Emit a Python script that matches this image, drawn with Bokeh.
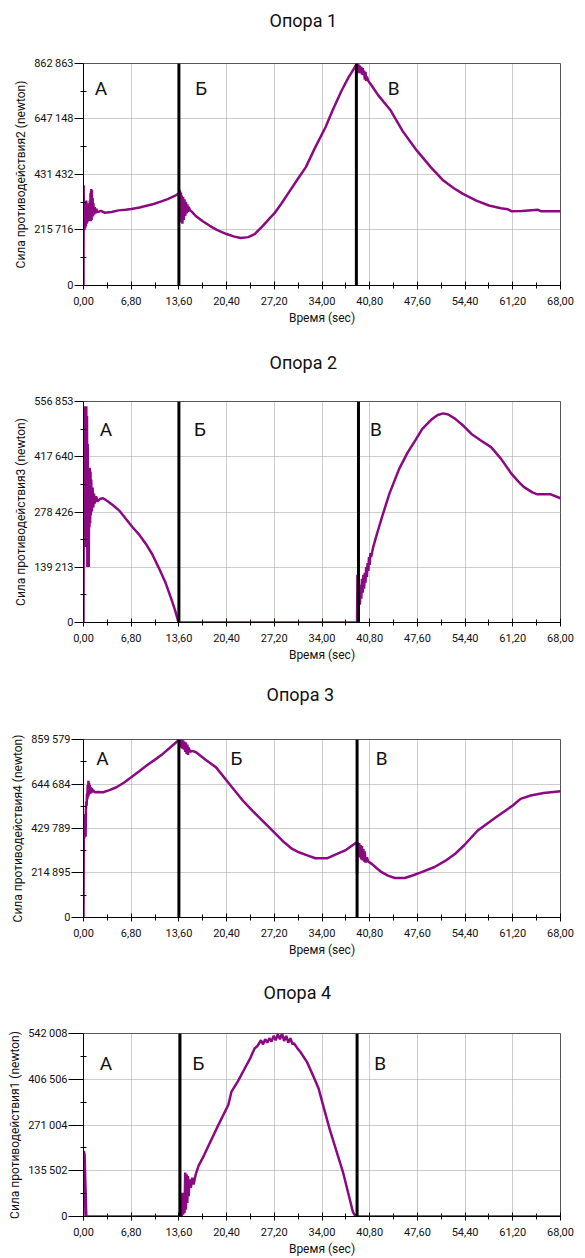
from bokeh.plotting import figure
from bokeh.layouts import column
from bokeh.models import FixedTicker, CustomJSTickFormatter, Label, Span, Title
from bokeh.embed import file_html
from bokeh.resources import INLINE

FONT = "Roboto"
PURPLE = "#8B0A82"

# ---------------- shared axis data ----------------
x_ticks = [0.0, 6.8, 13.6, 20.4, 27.2, 34.0, 40.8, 47.6, 54.4, 61.2, 68.0]
x_tick_labels = ["0,00", "6,80", "13,60", "20,40", "27,20", "34,00",
                 "40,80", "47,60", "54,40", "61,20", "68,00"]
x_minor = [3.4, 10.2, 17.0, 23.8, 30.6, 37.4, 44.2, 51.0, 57.8, 64.6]
x_title = "Время (sec)"
phase_letters = ["А", "Б", "В"]

# ---------------- Опора 1 ----------------
title1 = "Опора 1"
ylabel1 = "Сила противодействия2 (newton)"
y_ticks1 = [0, 215716, 431432, 647148, 862863]
y_labels1 = ["0", "215\u2009716", "431\u2009432", "647\u2009148", "862\u2009863"]
bounds1 = [13.6, 38.9]
t1 = [0.0, 0.02, 0.06, 0.1, 0.15, 0.2, 0.25, 0.3, 0.35, 0.4, 0.45, 0.5, 0.55, 0.6,
      0.65, 0.7, 0.75, 0.8, 0.85, 0.9, 0.95, 1.0, 1.05, 1.1, 1.15, 1.2, 1.25, 1.3,
      1.35, 1.4, 1.5, 1.6, 1.7, 1.8, 2.0, 2.5, 3.0, 4.0, 5.0, 6.0, 6.8, 8.0, 9.0,
      10.0, 11.0, 12.0, 13.0, 13.6, 13.65, 13.7, 13.75, 13.8, 13.85, 13.9, 13.95,
      14.0, 14.1, 14.2, 14.3, 14.4, 14.5, 14.6, 14.7, 14.8, 14.9, 15.0, 15.2, 15.5,
      16.0, 17.0, 18.0, 19.0, 20.4, 21.5, 22.4, 23.5, 24.4, 25.5, 26.5, 27.2, 28.2,
      29.3, 30.5, 31.7, 33.0, 34.5, 35.5, 36.8, 37.8, 38.6, 38.9, 39.0, 39.1, 39.2,
      39.3, 39.4, 39.5, 39.6, 39.7, 39.8, 39.9, 40.0, 40.1, 40.2, 40.3, 40.4, 40.6,
      41.0, 42.0, 43.8, 45.5, 47.5, 49.5, 51.3, 52.8, 54.1, 56.0, 57.8, 59.5, 60.5,
      61.0, 62.5, 64.8, 65.2, 68.0]
v1 = [0, 390000, 230000, 300000, 215000, 320000, 225000, 310000, 230000, 330000,
      240000, 300000, 245000, 320000, 250000, 300000, 260000, 310000, 255000, 330000,
      250000, 360000, 250000, 375000, 255000, 370000, 265000, 340000, 270000, 320000,
      275000, 305000, 280000, 298000, 285000, 290000, 283000, 286000, 292000, 294000,
      297000, 303000, 310000, 317000, 326000, 336000, 348000, 358000, 330000, 372000,
      300000, 365000, 260000, 360000, 245000, 350000, 240000, 345000, 255000, 335000,
      270000, 325000, 280000, 315000, 285000, 305000, 292000, 285000, 270000, 250000,
      232000, 216000, 200000, 190000, 185000, 188000, 200000, 230000, 260000, 280000,
      318000, 363000, 412000, 460000, 535000, 615000, 680000, 758000, 810000, 845000,
      858000, 862000, 830000, 860000, 825000, 855000, 830000, 850000, 820000, 845000,
      818000, 835000, 800000, 830000, 795000, 812000, 795000, 780000, 740000, 680000,
      600000, 525000, 460000, 408000, 378000, 356000, 330000, 311000, 300000, 296000,
      289000, 290000, 294000, 289000, 289000]

# ---------------- Опора 2 ----------------
title2 = "Опора 2"
ylabel2 = "Сила противодействия3 (newton)"
y_ticks2 = [0, 139213, 278426, 417640, 556853]
y_labels2 = ["0", "139\u2009213", "278\u2009426", "417\u2009640", "556\u2009853"]
bounds2 = [13.6, 39.2]
t2 = [0.0, 0.03, 0.05, 0.1, 0.15, 0.2, 0.25, 0.3, 0.35, 0.4, 0.45, 0.5, 0.55, 0.6,
      0.65, 0.7, 0.75, 0.8, 0.85, 0.9, 0.95, 1.0, 1.05, 1.1, 1.2, 1.3, 1.4, 1.5, 1.6,
      1.8, 2.0, 2.4, 2.8, 3.5, 4.3, 5.1, 6.0, 7.0, 8.0, 8.9, 9.8, 10.7, 11.7, 12.6,
      13.1, 13.55, 20.0, 30.0, 39.0, 39.05, 39.1, 39.2, 39.3, 39.4, 39.5, 39.6, 39.7,
      39.8, 39.9, 40.0, 40.1, 40.2, 40.3, 40.4, 40.5, 40.6, 40.7, 40.8, 40.9, 41.0,
      41.3, 41.7, 42.2, 42.7, 43.6, 45.0, 46.2, 47.3, 48.3, 49.7, 50.5, 51.3, 52.0,
      53.0, 54.2, 55.3, 56.7, 58.1, 59.5, 61.0, 62.0, 62.8, 64.0, 64.7, 66.6, 68.0]
v2 = [0, 260000, 190000, 545000, 200000, 545000, 190000, 540000, 220000, 545000,
      250000, 520000, 140000, 450000, 160000, 390000, 140000, 380000, 240000, 390000,
      250000, 380000, 270000, 360000, 280000, 340000, 290000, 325000, 300000, 318000,
      305000, 312000, 313000, 305000, 294000, 282000, 262000, 240000, 220000, 198000,
      172000, 139000, 100000, 55000, 28000, 0, 0, 0, 0, 120000, 5000, 50000, 85000,
      45000, 95000, 60000, 110000, 75000, 120000, 85000, 125000, 100000, 140000,
      115000, 150000, 130000, 165000, 145000, 175000, 165000, 190000, 215000, 245000,
      274000, 324000, 387000, 428000, 459000, 488000, 513000, 523000, 527000, 524000,
      513000, 495000, 475000, 458000, 442000, 413000, 375000, 355000, 341000, 328000,
      323000, 323000, 313000]

# ---------------- Опора 3 ----------------
title3 = "Опора 3"
ylabel3 = "Сила противодействия4 (newton)"
y_ticks3 = [0, 214895, 429789, 644684, 859579]
y_labels3 = ["0", "214\u2009895", "429\u2009789", "644\u2009684", "859\u2009579"]
bounds3 = [13.6, 39.0]
t3 = [0.0, 0.05, 0.1, 0.15, 0.2, 0.25, 0.3, 0.35, 0.4, 0.45, 0.5, 0.55, 0.6, 0.65,
      0.7, 0.75, 0.8, 0.85, 0.9, 0.95, 1.0, 1.1, 1.2, 1.3, 1.4, 1.6, 2.0, 2.8, 3.7,
      4.7, 5.8, 6.8, 7.9, 9.0, 10.1, 11.3, 12.4, 13.5, 13.6, 13.7, 13.8, 13.9, 14.0,
      14.1, 14.2, 14.3, 14.4, 14.5, 14.6, 14.7, 14.8, 14.9, 15.0, 15.2, 15.5, 16.05,
      17.4, 18.9, 20.8, 22.7, 24.1, 25.5, 27.4, 28.6, 29.75, 30.7, 31.9, 33.05, 34.7,
      35.9, 37.3, 38.96, 39.0, 39.1, 39.2, 39.3, 39.4, 39.5, 39.6, 39.7, 39.8, 39.9,
      40.0, 40.1, 40.2, 40.4, 40.6, 41.1, 41.8, 42.5, 43.4, 44.4, 45.8, 47.0, 48.2,
      50.05, 51.5, 52.9, 54.3, 56.2, 59.0, 61.2, 62.3, 63.75, 65.6, 68.0]
v3 = [0, 480000, 380000, 500000, 400000, 490000, 390000, 520000, 560000, 540000,
      600000, 570000, 640000, 580000, 660000, 590000, 650000, 595000, 640000, 600000,
      630000, 600000, 625000, 605000, 615000, 605000, 606000, 605000, 615000, 629000,
      652000, 677000, 705000, 734000, 760000, 790000, 822000, 855000, 860000, 830000,
      860000, 820000, 858000, 815000, 855000, 810000, 850000, 800000, 845000, 790000,
      835000, 785000, 820000, 800000, 805000, 798000, 762000, 725000, 645000, 565000,
      515000, 468000, 404000, 363000, 331000, 315000, 300000, 286000, 286000, 304000,
      324000, 363000, 212000, 363000, 300000, 360000, 290000, 350000, 280000, 345000,
      275000, 330000, 270000, 320000, 265000, 290000, 270000, 259000, 238000, 219000,
      202000, 191000, 191000, 204000, 219000, 244000, 272000, 305000, 350000, 420000,
      489000, 541000, 573000, 589000, 601000, 610000]

# ---------------- Опора 4 ----------------
title4 = "Опора 4"
ylabel4 = "Сила противодействия1 (newton)"
y_ticks4 = [0, 135502, 271004, 406506, 542008]
y_labels4 = ["0", "135\u2009502", "271\u2009004", "406\u2009506", "542\u2009008"]
bounds4 = [13.75, 39.0]
t4 = [0.0, 0.03, 0.15, 0.4, 5.0, 10.0, 14.0, 14.1, 14.2, 14.3, 14.4, 14.5, 14.6,
      14.7, 14.8, 14.9, 15.0, 15.1, 15.3, 15.5, 15.7, 16.0, 16.4, 17.2, 17.8, 19.2,
      20.65, 21.1, 22.0, 23.0, 23.8, 24.4, 24.8, 25.3, 25.6, 25.9, 26.2, 26.5, 26.8,
      27.1, 27.4, 27.7, 28.0, 28.3, 28.6, 28.9, 29.2, 29.5, 29.8, 30.0, 30.5, 30.9,
      31.85, 32.8, 33.5, 34.2, 35.1, 37.0, 38.4, 38.8, 50.0, 68.0]
v4 = [0, 194000, 185000, 0, 0, 0, 0, 70000, 5000, 65000, 10000, 130000, 20000,
      125000, 40000, 120000, 60000, 110000, 85000, 115000, 95000, 125000, 150000,
      182000, 209000, 270000, 331000, 370000, 400000, 439000, 470000, 498000, 505000,
      522000, 510000, 525000, 515000, 528000, 518000, 535000, 522000, 540000, 525000,
      542000, 520000, 535000, 515000, 528000, 510000, 513000, 498000, 488000, 458000,
      414000, 380000, 326000, 258000, 131000, 14000, 0, 0, 0]

# ---------------- layout constants (pixels) ----------------
PAGE_W = 585
TITLE_LEFT = 263        # title left edge on the page
LABEL_EDGE = 68         # right edge of the y tick marks on the page
specs = [
    dict(t=t1, v=v1, title=title1, ylabel=ylabel1, yt=y_ticks1, yl=y_labels1,
         bounds=bounds1, h=340, top=63, fh=222, left=77, fw=486, gap=27,
         letters=[(2.5, 766000), (16.8, 766000), (44.2, 766000)]),
    dict(t=t2, v=v2, title=title2, ylabel=ylabel2, yt=y_ticks2, yl=y_labels2,
         bounds=bounds2, h=330, top=61, fh=221, left=77, fw=483, gap=23,
         letters=[(3.2, 486000), (16.6, 486000), (41.7, 486000)]),
    dict(t=t3, v=v3, title=title3, ylabel=ylabel3, yt=y_ticks3, yl=y_labels3,
         bounds=bounds3, h=305, top=69, fh=178, left=80, fw=480, gap=29,
         letters=[(2.7, 768000), (21.8, 768000), (42.5, 768000)]),
    dict(t=t4, v=v4, title=title4, ylabel=ylabel4, yt=y_ticks4, yl=y_labels4,
         bounds=bounds4, h=283, top=58, fh=185, left=83, fw=484, gap=25,
         letters=[(3.2, 454000), (16.4, 454000), (42.3, 454000)]),
]

JS = """
let best = 0; let d = Infinity;
for (let i = 0; i < tv.length; i++) {
  const e = Math.abs(tv[i] - tick);
  if (e < d) { d = e; best = i; }
}
return tl[best];
"""


def make(s):
    bottom = s["h"] - s["top"] - s["fh"]
    p = figure(width=PAGE_W, height=s["h"], output_backend="svg",
               toolbar_location=None, x_range=(0, 68), y_range=(0, s["yt"][-1]),
               min_border_left=s["left"], min_border_right=PAGE_W - s["left"] - s["fw"],
               min_border_top=s["top"], min_border_bottom=bottom)
    p.outline_line_color = "#555555"
    p.outline_line_width = 1
    p.background_fill_color = "white"
    p.border_fill_color = "white"

    # spacer between frame and title, then the title itself
    p.add_layout(Title(text=" ", text_font_size="1px", standoff=s["gap"]), "above")
    p.add_layout(Title(text=s["title"], align="left", offset=TITLE_LEFT - s["left"],
                       text_font=FONT, text_font_size="18px", text_font_style="normal",
                       text_color="#111111", standoff=6), "above")

    p.xaxis.ticker = FixedTicker(ticks=x_ticks, minor_ticks=x_minor)
    p.xaxis.formatter = CustomJSTickFormatter(args=dict(tv=x_ticks, tl=x_tick_labels), code=JS)
    yminor = []
    for a, b in zip(s["yt"][:-1], s["yt"][1:]):
        yminor.append((a + b) / 2)
    p.yaxis.ticker = FixedTicker(ticks=s["yt"], minor_ticks=yminor)
    p.yaxis.formatter = CustomJSTickFormatter(args=dict(tv=s["yt"], tl=s["yl"]), code=JS)

    for ax in (p.xaxis[0], p.yaxis[0]):
        ax.axis_line_color = "black"
        ax.major_tick_line_color = "black"
        ax.minor_tick_line_color = "black"
        ax.major_label_text_font = FONT
        ax.major_label_text_font_size = "11px"
        ax.major_label_text_color = "#111111"
        ax.axis_label_text_font = FONT
        ax.axis_label_text_font_size = "12px"
        ax.axis_label_text_font_style = "normal"
        ax.axis_label_text_color = "#111111"
    p.xaxis.major_tick_in = 4
    p.xaxis.major_tick_out = 4
    p.xaxis.minor_tick_in = 3
    p.xaxis.minor_tick_out = 3
    p.xaxis.major_label_standoff = 7
    p.xaxis.axis_label = x_title
    p.xaxis.axis_label_standoff = 3
    p.yaxis.major_tick_in = 0
    p.yaxis.major_tick_out = s["left"] - LABEL_EDGE
    p.yaxis.minor_tick_in = 3
    p.yaxis.minor_tick_out = 3
    p.yaxis.major_label_standoff = 1
    p.yaxis.axis_label = s["ylabel"]
    p.yaxis.axis_label_standoff = 3

    p.grid.grid_line_color = "#9a9a9a"
    p.grid.grid_line_dash = "1 1"
    p.grid.grid_line_width = 1

    p.line(s["t"], s["v"], line_color=PURPLE, line_width=2.5)

    for b in s["bounds"]:
        p.add_layout(Span(location=b, dimension="height", line_color="black",
                          line_width=3))

    for (lx, ly), txt in zip(s["letters"], phase_letters):
        p.add_layout(Label(x=lx, y=ly, text=txt, text_font=FONT,
                           text_font_size="19px", text_align="center",
                           text_baseline="middle", text_color="#111111"))
    return p


plots = [make(s) for s in specs]
layout = column(*plots, spacing=0)

open("out.html", "w").write(file_html(layout, INLINE))
